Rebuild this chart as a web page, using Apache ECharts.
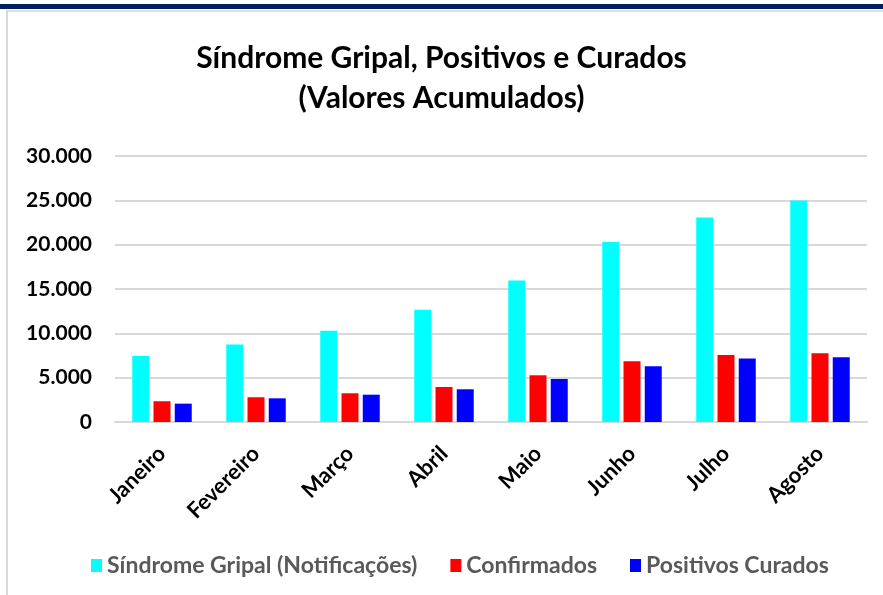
<!DOCTYPE html>
<html>
<head>
<meta charset="utf-8">
<script src="https://cdn.jsdelivr.net/npm/echarts@6/dist/echarts.min.js"></script>
<style>
	html, body { margin: 0; padding: 0; background: #ffffff; }
	#chart { width: 883px; height: 595px; }
</style>
</head>
<body>
<div id="chart"></div>
<script>
var meses = ['Janeiro', 'Fevereiro', 'Março', 'Abril', 'Maio', 'Junho', 'Julho', 'Agosto'];
var sindrome_gripal = [7450, 8730, 10300, 12650, 15950, 20300, 23070, 24990];
var confirmados = [2340, 2790, 3240, 3950, 5270, 6850, 7560, 7750];
var positivos_curados = [2070, 2670, 3080, 3690, 4850, 6290, 7150, 7300];

var font_family = 'Lato';
var label_color = '#000000';
var legend_color = '#595959';
var grid_color = '#d9d9d9';

function formatMilhar(v) {
	return v.toString().replace(/\B(?=(\d{3})+(?!\d))/g, '.');
}

var chart = echarts.init(document.getElementById('chart'));
var options = {
	animation: false,
	backgroundColor: '#ffffff',
	graphic: [
		{ type: 'rect', shape: { x: 0, y: 4, width: 883, height: 5 }, style: { fill: '#002060' } },
		{ type: 'rect', shape: { x: 7, y: 10, width: 876, height: 2 }, style: { fill: '#e0e0e0' } },
		{ type: 'rect', shape: { x: 6, y: 10, width: 2, height: 585 }, style: { fill: '#d9d9d9' } }
	],
	title: {
		text: 'Síndrome Gripal, Positivos e Curados\n(Valores Acumulados)',
		left: 'center',
		top: 33,
		textStyle: {
			fontFamily: font_family,
			fontWeight: 'bold',
			fontSize: 30,
			lineHeight: 40,
			color: '#000000'
		}
	},
	legend: {
		bottom: 13,
		left: 86,
		icon: 'rect',
		itemWidth: 11,
		itemHeight: 13,
		itemGap: 33,
		data: ['Síndrome Gripal (Notificações)', 'Confirmados', 'Positivos Curados'],
		textStyle: {
			fontFamily: font_family,
			fontWeight: 'bold',
			fontSize: 23,
			color: legend_color
		}
	},
	grid: {
		left: 115,
		right: 16,
		top: 156,
		bottom: 173
	},
	xAxis: {
		type: 'category',
		data: meses,
		axisTick: { show: false },
		axisLine: { lineStyle: { color: grid_color, width: 2 } },
		axisLabel: {
			rotate: 45,
			interval: 0,
			margin: 28,
			fontFamily: font_family,
			fontWeight: 'bold',
			fontSize: 22,
			color: label_color
		}
	},
	yAxis: {
		type: 'value',
		min: 0,
		max: 30000,
		interval: 5000,
		axisLine: { show: false },
		axisTick: { show: false },
		axisLabel: {
			margin: 23,
			fontFamily: font_family,
			fontWeight: 'bold',
			fontSize: 21,
			color: label_color,
			formatter: function (value) { return formatMilhar(value); }
		},
		splitLine: { lineStyle: { color: grid_color, width: 2 } }
	},
	series: [
		{
			name: 'Síndrome Gripal (Notificações)',
			type: 'bar',
			data: sindrome_gripal,
			barWidth: 17,
			barGap: '25%',
			itemStyle: { color: '#00ffff' }
		},
		{
			name: 'Confirmados',
			type: 'bar',
			data: confirmados,
			barWidth: 17,
			barGap: '25%',
			itemStyle: { color: '#ff0000' }
		},
		{
			name: 'Positivos Curados',
			type: 'bar',
			data: positivos_curados,
			barWidth: 17,
			barGap: '25%',
			itemStyle: { color: '#0000ff' }
		}
	]
};

chart.setOption(options, true);
</script>
</body>
</html>
